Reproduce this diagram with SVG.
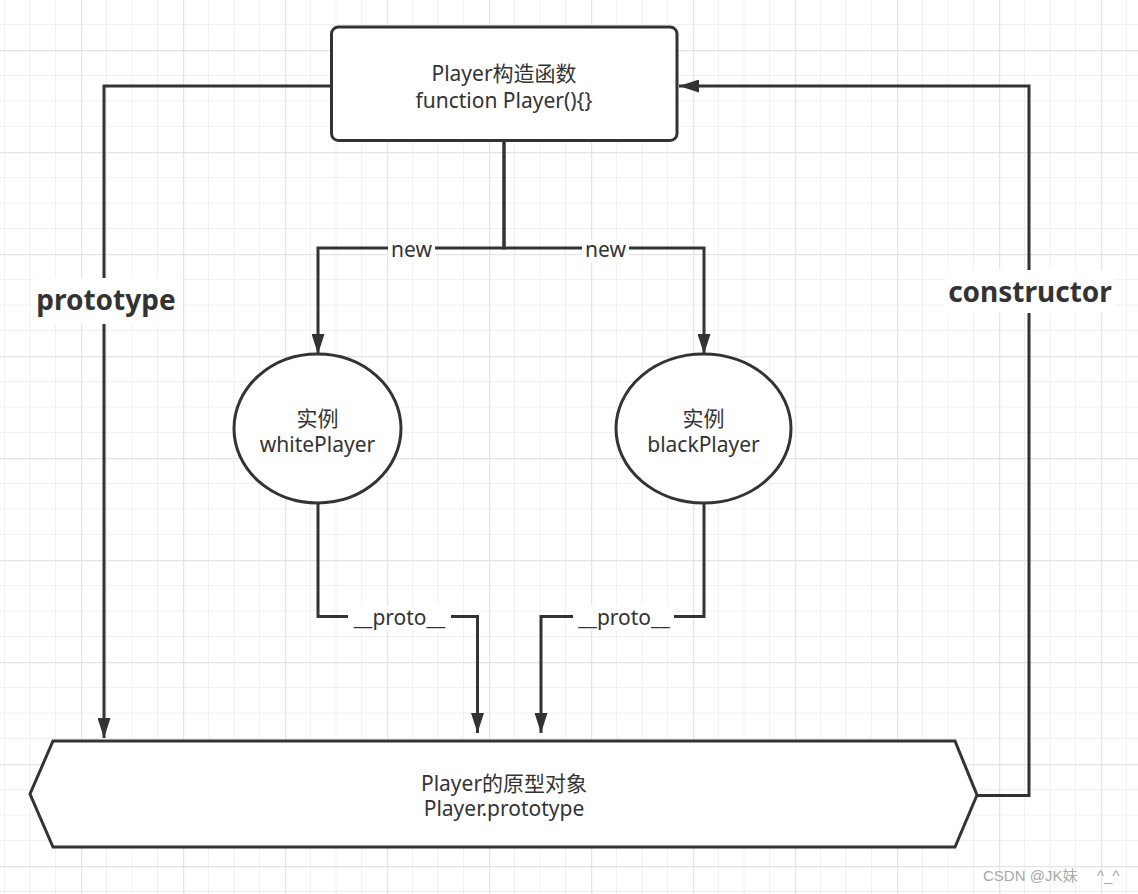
<svg xmlns="http://www.w3.org/2000/svg" width="1138" height="894" viewBox="0 0 1138 894">
<style>
.ln{fill:none;stroke:#333;stroke-width:3;stroke-linejoin:miter;stroke-linecap:butt}
.nd{fill:#fff;stroke:#333;stroke-width:3}
.t{font-family:"Noto Sans","Noto Sans CJK SC",sans-serif;font-size:21px;fill:#333;text-anchor:middle}
.b{font-family:"Noto Sans","Noto Sans CJK SC",sans-serif;font-size:28px;font-weight:bold;fill:#333;text-anchor:middle}
.bg{fill:#fff}
.wm{font-family:"Liberation Sans","Noto Sans CJK SC",sans-serif;font-size:15px;fill:#a8a8a8}
</style>
<defs>
<pattern id="grid" patternUnits="userSpaceOnUse" x="81" y="50" width="102" height="102">
<path d="M25.5,0V102M51,0V102M76.5,0V102M0,25.5H102M0,51H102M0,76.5H102" stroke="#f0f0f0" stroke-width="1" fill="none"/>
<path d="M0.5,0V102M0,0.5H102" stroke="#e4e4e4" stroke-width="1.5" fill="none"/>
</pattern>
<marker id="arr" markerUnits="userSpaceOnUse" viewBox="0 0 20 13" markerWidth="20" markerHeight="13" refX="20" refY="6.5" orient="auto">
<path d="M0,0L20,6.5L0,13z" fill="#333"/>
</marker>
</defs>
<rect width="1138" height="894" fill="#fff"/>
<rect width="1138" height="894" fill="url(#grid)"/>

<g id="connectors">
<path class="ln" d="M331,86H104V738" marker-end="url(#arr)"/>
<path class="ln" d="M977,795.5H1029V86H679" marker-end="url(#arr)"/>
<path class="ln" d="M504,141V248H318V354" marker-end="url(#arr)"/>
<path class="ln" d="M504,141V248H704V354" marker-end="url(#arr)"/>
<path class="ln" d="M318,503V616.5H477.5V733" marker-end="url(#arr)"/>
<path class="ln" d="M704,503V616.5H541V733" marker-end="url(#arr)"/>
<g id="labels">
<rect class="bg" x="388" y="240" width="47" height="22"/>
<text class="t" x="411.5" y="257">new</text>
<rect class="bg" x="582" y="240" width="47" height="22"/>
<text class="t" x="605.5" y="257">new</text>
<rect class="bg" x="348" y="606" width="103" height="24"/>
<text class="t" x="399.5" y="625">__proto__</text>
<rect class="bg" x="573" y="606" width="101" height="24"/>
<text class="t" x="624" y="625">__proto__</text>
<rect class="bg" x="33" y="278" width="147" height="46"/>
<text class="b" x="106" y="310">prototype</text>
<rect class="bg" x="945" y="270" width="170" height="43"/>
<text class="b" x="1030" y="302">constructor</text>
</g>
</g>

<g id="player-constructor">
<rect class="nd" x="331.5" y="27" width="345.5" height="113.5" rx="7"/>
<text class="t" x="504" y="81">Player构造函数</text>
<text class="t" x="504" y="107.5">function Player(){}</text>
</g>

<g id="white-player">
<ellipse class="nd" cx="317.5" cy="428.5" rx="83.5" ry="74.5"/>
<text class="t" x="317.5" y="426">实例</text>
<text class="t" x="317.5" y="452">whitePlayer</text>
</g>

<g id="black-player">
<ellipse class="nd" cx="703.5" cy="428.5" rx="87.5" ry="74.5"/>
<text class="t" x="703.5" y="426">实例</text>
<text class="t" x="703.5" y="452">blackPlayer</text>
</g>

<g id="player-prototype">
<polygon class="nd" points="53,741 955,741 977,795 955,847 53,847 30,794"/>
<text class="t" x="504" y="790.5">Player的原型对象</text>
<text class="t" x="504" y="816">Player.prototype</text>
</g>

<text class="wm" x="983" y="881">CSDN @JK妹<tspan x="1097">^_^</tspan></text>
</svg>
